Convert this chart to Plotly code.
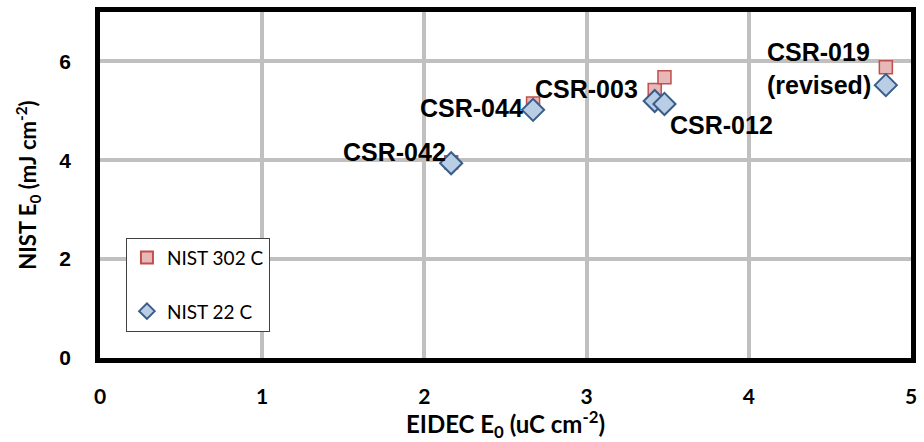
import plotly.graph_objects as go

# Data
samples = ["CSR-042", "CSR-044", "CSR-003", "CSR-012", "CSR-019"]
eidec_e0 = [2.165, 2.67, 3.42, 3.48, 4.845]
nist_302c = [3.96, 5.15, 5.42, 5.68, 5.88]
nist_22c = [3.94, 5.02, 5.20, 5.14, 5.52]
x_ticks = [0, 1, 2, 3, 4, 5]
y_ticks = [0, 2, 4, 6]

fig = go.Figure()
fig.add_trace(go.Scatter(
    x=eidec_e0, y=nist_302c, mode="markers", name="NIST 302 C",
    legendgroup="a",
    marker=dict(symbol="square", size=13, color="#E6B9B8",
                line=dict(color="#C0504D", width=1.5)),
))
fig.add_trace(go.Scatter(
    x=eidec_e0, y=nist_22c, mode="markers", name="NIST 22 C",
    legendgroup="b",
    marker=dict(symbol="diamond", size=17, color="#B9CDE5",
                line=dict(color="#385D8A", width=2)),
))

label_font = dict(family="Liberation Sans, Arial", size=25, color="black")
labels = [
    (samples[0], 2.145, 4.16, "right"),
    (samples[1], 2.62, 5.06, "right"),
    (samples[2], 3.33, 5.44, "right"),
    (samples[3], 3.50, 4.72, "left"),
    (samples[4] + "<br>(revised)", 4.10, 5.86, "left"),
]
for text, x, y, anchor in labels:
    fig.add_annotation(x=x, y=y, text="<b>" + text + "</b>", showarrow=False,
                       xanchor=anchor, yanchor="middle", align="left",
                       font=label_font)

fig.update_layout(
    width=924, height=442,
    margin=dict(l=100, r=13, t=7, b=84),
    paper_bgcolor="white", plot_bgcolor="white",
    showlegend=True,
    legend=dict(
        x=0.032, y=0.348, xanchor="left", yanchor="top",
        bgcolor="white", bordercolor="#404040", borderwidth=1,
        font=dict(family="Lato, Open Sans", size=19, color="black"),
        tracegroupgap=26, traceorder="grouped", itemsizing="constant",
    ),
    xaxis=dict(
        range=[0, 5], tickvals=x_ticks, ticktext=[str(v) for v in x_ticks],
        showgrid=True, gridcolor="#C0C0C0", gridwidth=3.5,
        showline=True, linecolor="black", linewidth=4.5, mirror=True,
        zeroline=False, ticks="", ticklabelstandoff=16,
        tickfont=dict(family="Lato, Open Sans", size=21, color="black", weight="bold"),
        title=dict(text="<b>EIDEC E<sub>0</sub> (uC cm<sup>-2</sup>)</b>",
                   font=dict(family="Lato, Open Sans", size=24, color="black"),
                   standoff=3),
    ),
    yaxis=dict(
        range=[0, 7], tickvals=y_ticks, ticktext=[str(v) for v in y_ticks],
        showgrid=True, gridcolor="#C0C0C0", gridwidth=3.5,
        showline=True, linecolor="black", linewidth=4.5, mirror=True,
        zeroline=False, ticks="", ticklabelstandoff=20,
        tickfont=dict(family="Liberation Sans, Arial", size=21, color="black", weight="bold"),
        title=dict(text="<b>NIST E<sub>0</sub> (mJ cm<sup>-2</sup>)</b>",
                   font=dict(family="Lato, Open Sans", size=22, color="black"),
                   standoff=18),
    ),
)

fig.write_html("out.html")
